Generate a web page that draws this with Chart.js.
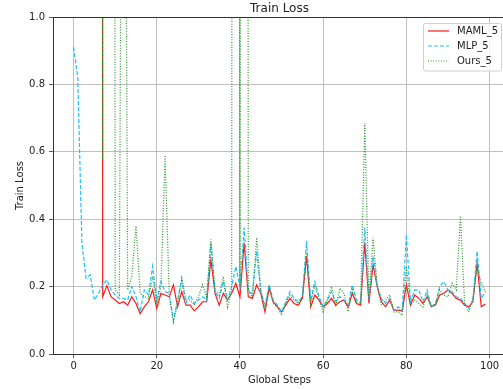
<!DOCTYPE html>
<html>
<head>
<meta charset="utf-8">
<script src="https://cdn.jsdelivr.net/npm/chart.js@4/dist/chart.umd.min.js"></script>
<style>
  body { margin: 0; overflow: hidden; background: #fff; }
  canvas { display: block; }
</style>
</head>
<body>
<canvas id="lossChart" width="510" height="389"></canvas>
<script>
// values (steps 0..99); early values far above the 1.0 limit
const maml5 = [
  40, 34, 29, 25, 21, 18, 16, 0.17, 0.203, 0.17,
  0.16, 0.15, 0.155, 0.145, 0.17, 0.15, 0.12, 0.14, 0.155, 0.19,
  0.135, 0.18, 0.175, 0.17, 0.205, 0.14, 0.185, 0.145, 0.145, 0.128,
  0.14, 0.155, 0.155, 0.28, 0.18, 0.145, 0.18, 0.16, 0.18, 0.21,
  0.17, 0.33, 0.17, 0.165, 0.205, 0.18, 0.125, 0.195, 0.155, 0.14,
  0.125, 0.145, 0.165, 0.15, 0.145, 0.165, 0.29, 0.14, 0.175, 0.16,
  0.14, 0.15, 0.165, 0.145, 0.155, 0.16, 0.14, 0.18, 0.15, 0.145,
  0.33, 0.15, 0.265, 0.2, 0.155, 0.14, 0.16, 0.13, 0.13, 0.128,
  0.205, 0.145, 0.175, 0.165, 0.15, 0.17, 0.14, 0.145, 0.175, 0.18,
  0.19, 0.18, 0.165, 0.16, 0.145, 0.14, 0.155, 0.27, 0.14, 0.148
];
const mlp5 = [
  0.91, 0.82, 0.33, 0.225, 0.235, 0.16, 0.18, 0.205, 0.22, 0.19,
  0.175, 0.165, 0.165, 0.16, 0.2, 0.17, 0.125, 0.19, 0.175, 0.26,
  0.16, 0.215, 0.185, 0.18, 0.1, 0.16, 0.22, 0.15, 0.175, 0.15,
  0.16, 0.17, 0.16, 0.33, 0.185, 0.165, 0.215, 0.16, 0.2, 0.26,
  0.2, 0.375, 0.185, 0.18, 0.305, 0.185, 0.14, 0.205, 0.16, 0.145,
  0.125, 0.155, 0.185, 0.165, 0.155, 0.17, 0.335, 0.16, 0.215, 0.17,
  0.14, 0.16, 0.185, 0.155, 0.17, 0.16, 0.145, 0.205, 0.16, 0.155,
  0.375, 0.16, 0.29, 0.2, 0.165, 0.15, 0.165, 0.13, 0.14, 0.13,
  0.355, 0.155, 0.19, 0.19, 0.155, 0.19, 0.14, 0.15, 0.2, 0.215,
  0.19, 0.185, 0.17, 0.165, 0.15, 0.135, 0.16, 0.305, 0.165, 0.185
];
const ours5 = [
  38, 33, 28, 24, 20, 17, 15, 0.575, 15, 15,
  0.19, 0.175, 3.0, 0.19, 0.23, 0.38, 0.18, 0.17, 0.165, 0.23,
  0.15, 0.2, 0.59, 0.17, 0.095, 0.15, 0.225, 0.16, 0.16, 0.145,
  0.17, 0.205, 0.17, 0.34, 0.19, 0.175, 0.23, 0.14, 0.19, 15,
  0.2, 15, 0.19, 0.17, 0.345, 0.19, 0.14, 0.2, 0.15, 0.14,
  0.115, 0.15, 0.175, 0.16, 0.15, 0.17, 0.3, 0.15, 0.205, 0.16,
  0.125, 0.16, 0.2, 0.14, 0.195, 0.18, 0.125, 0.19, 0.155, 0.15,
  0.685, 0.16, 0.345, 0.2, 0.145, 0.16, 0.175, 0.125, 0.125, 0.115,
  0.26, 0.145, 0.16, 0.15, 0.14, 0.175, 0.14, 0.15, 0.19, 0.175,
  0.17, 0.21, 0.19, 0.41, 0.15, 0.125, 0.165, 0.26, 0.21, 0.185
];
const seriesNames = ['MAML_5', 'MLP_5', 'Ours_5'];
const xTicks = [0, 20, 40, 60, 80, 100];
const yTicks = [0, 0.2, 0.4, 0.6, 0.8, 1.0];

const lineColors = ['#ff1a1a', '#19c3ff', '#249a24'];
const lineDashes = [[], [4, 2], [1, 1.6]];

function toPoints(values) {
    return values.map((v, i) => ({ x: i, y: v }));
}

Chart.defaults.font.family = 'DejaVu Sans';
Chart.defaults.font.size = 10;
Chart.defaults.color = '#222';

// top spine, title and the in-plot legend, drawn like matplotlib does
const frameAndLegend = {
    id: 'frameAndLegend',
    afterDraw(chart) {
        const ctx = chart.ctx;
        const area = chart.chartArea;
        ctx.save();
        ctx.strokeStyle = '#333';
        ctx.lineWidth = 1;
        ctx.beginPath();
        ctx.moveTo(area.left, area.top + 0.5);
        ctx.lineTo(area.right, area.top + 0.5);
        ctx.moveTo(area.right - 0.5, area.top);
        ctx.lineTo(area.right - 0.5, area.bottom);
        ctx.stroke();

        ctx.fillStyle = '#222';
        ctx.font = '12px "DejaVu Sans"';
        ctx.textAlign = 'center';
        ctx.textBaseline = 'alphabetic';
        ctx.fillText('Train Loss', (area.left + area.right) / 2, 11.5);

        // legend box
        const bx = 423.5, by = 23.5, bw = 78, bh = 47.5;
        ctx.fillStyle = 'rgba(255,255,255,0.8)';
        ctx.strokeStyle = '#d0d0d0';
        ctx.lineWidth = 1;
        ctx.beginPath();
        ctx.roundRect(bx, by, bw, bh, 2);
        ctx.fill();
        ctx.stroke();

        ctx.font = '10px "DejaVu Sans"';
        ctx.textAlign = 'left';
        ctx.textBaseline = 'middle';
        seriesNames.forEach((name, i) => {
            const y = 31 + i * 15;
            ctx.strokeStyle = lineColors[i];
            ctx.lineWidth = 1.2;
            ctx.setLineDash(lineDashes[i]);
            ctx.beginPath();
            ctx.moveTo(428, y);
            ctx.lineTo(449, y);
            ctx.stroke();
            ctx.setLineDash([]);
            ctx.fillStyle = '#222';
            ctx.fillText(name, 457, y + 0.5);
        });
        ctx.restore();
    }
};

const ctx = document.getElementById('lossChart').getContext('2d');
new Chart(ctx, {
    type: 'line',
    data: {
        datasets: [maml5, mlp5, ours5].map((vals, i) => ({
            label: seriesNames[i],
            data: toPoints(vals),
            borderColor: lineColors[i],
            borderWidth: 1.2,
            borderDash: lineDashes[i],
            pointRadius: 0,
            tension: 0,
            fill: false,
            order: 2 - i
        }))
    },
    options: {
        responsive: false,
        animation: false,
        devicePixelRatio: 1,
        layout: { padding: { top: 17, right: 4, left: 0, bottom: 0 } },
        plugins: {
            legend: { display: false },
            tooltip: { enabled: false },
            title: { display: false }
        },
        scales: {
            x: {
                type: 'linear',
                min: -4.95,
                max: 103.95,
                afterBuildTicks(scale) {
                    scale.ticks = xTicks.map(v => ({ value: v }));
                },
                afterFit(scale) { scale.height = 35; },
                ticks: {
                    padding: 2,
                    maxRotation: 0,
                    callback: v => String(v)
                },
                grid: {
                    color: '#b0b0b0',
                    lineWidth: 0.8,
                    tickColor: '#333',
                    tickLength: 4
                },
                border: { color: '#333', width: 1 },
                title: {
                    display: true,
                    text: 'Global Steps',
                    padding: { top: 0, bottom: 3 },
                    font: { size: 10 }
                }
            },
            y: {
                min: 0,
                max: 1,
                afterBuildTicks(scale) {
                    scale.ticks = yTicks.map(v => ({ value: v }));
                },
                afterFit(scale) { scale.width = 53; },
                ticks: {
                    padding: 4,
                    callback: v => v.toFixed(1)
                },
                grid: {
                    color: '#b0b0b0',
                    lineWidth: 0.8,
                    tickColor: '#333',
                    tickLength: 4
                },
                border: { color: '#333', width: 1 },
                title: {
                    display: true,
                    text: 'Train Loss',
                    padding: { top: 14, bottom: 0 },
                    font: { size: 10 }
                }
            }
        }
    },
    plugins: [frameAndLegend]
});
</script>
</body>
</html>
